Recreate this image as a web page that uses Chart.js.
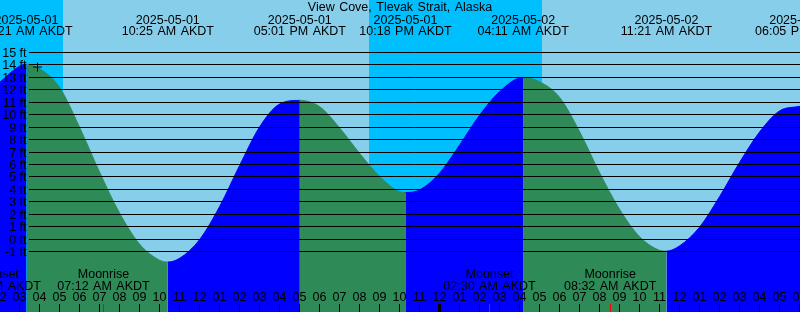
<!DOCTYPE html>
<html>
<head>
<meta charset="utf-8">
<script src="https://cdn.jsdelivr.net/npm/chart.js@4.4.0/dist/chart.umd.min.js"></script>
<style>
  html, body { margin: 0; padding: 0; background: #87ceeb; }
  #chart { display: block; }
</style>
</head>
<body>
<canvas id="chart" width="800" height="312"></canvas>
<script>
const title = 'View Cove, Tlevak Strait, Alaska';

// hours counted from 2025-05-01 00:00 AKDT
const tideHours = [2, 3, 3.35, 4, 5, 6, 7, 8, 9, 10, 10.417, 11, 12, 13, 14, 15, 16, 17.017,
  18, 19, 20, 21, 22, 22.3, 23, 24, 25, 26, 27, 28.183, 29, 30, 31, 32, 33, 34, 35, 35.35,
  36, 37, 38, 39, 40, 41, 42, 42.083];
const tideFeet = [12.6, 13.9, 14.05, 13.7, 12.2, 9.0, 5.4, 2.1, -0.4, -1.7, -1.85, -1.55, -0.05, 2.6, 5.9, 9.0, 10.85, 11.15,
  10.65, 8.95, 6.9, 5.05, 3.8, 3.74, 3.95, 5.3, 7.55, 9.95, 11.85, 13.0, 12.65, 11.4, 8.65, 5.35, 2.4, 0.2, -0.9, -0.97,
  -0.55, 0.95, 3.4, 6.15, 8.6, 10.3, 10.67, 10.7];

const extremeHours = [3.35, 10.417, 17.017, 22.3, 28.183, 35.35, 42.083];
const extremeDates = ['2025-05-01', '2025-05-01', '2025-05-01', '2025-05-01', '2025-05-02', '2025-05-02', '2025-05-02'];
const extremeTimes = ['03:21 AM AKDT', '10:25 AM AKDT', '05:01 PM AKDT', '10:18 PM AKDT', '04:11 AM AKDT', '11:21 AM AKDT', '06:05 PM AKDT'];

const moonHours = [1.767, 7.2, 26.5, 32.533];
const moonEvents = ['Moonset', 'Moonrise', 'Moonset', 'Moonrise'];
const moonTimes = ['01:46 AM AKDT', '07:12 AM AKDT', '02:30 AM AKDT', '08:32 AM AKDT'];

// night = before sunrise / after sunset
const nightStarts = [0, 20.483];
const nightEnds = [5.167, 29.133];

const depthTicks = [-1, 0, 1, 2, 3, 4, 5, 6, 7, 8, 9, 10, 11, 12, 13, 14, 15];
const hourTicks = [2, 3, 4, 5, 6, 7, 8, 9, 10, 11, 12, 13, 14, 15, 16, 17, 18, 19, 20, 21, 22,
  23, 24, 25, 26, 27, 28, 29, 30, 31, 32, 33, 34, 35, 36, 37, 38, 39, 40, 41, 42];

const markHours = [3.9];
const markFeet = [13.83];

const dayColor = '#87CEEB';
const nightColor = '#00BFFF';
const risingColor = '#0000FF';
const fallingColor = '#2E8B57';
const FONT = '12.5px "Liberation Sans", Arial, sans-serif';

const tideColor = (ctx) =>
  ctx.p1.parsed.y > ctx.p0.parsed.y ? risingColor : fallingColor;

const tideDecor = {
  id: 'tideDecor',
  beforeDraw: (chart) => {
    const { ctx, width, height } = chart;
    const x = chart.scales.x;
    ctx.save();
    ctx.fillStyle = dayColor;
    ctx.fillRect(0, 0, width, height);
    ctx.fillStyle = nightColor;
    nightStarts.forEach((start, i) => {
      const x0 = Math.round(x.getPixelForValue(start));
      const x1 = Math.round(x.getPixelForValue(nightEnds[i]));
      ctx.fillRect(x0, 0, x1 - x0, height);
    });
    ctx.restore();
  },
  afterDatasetsDraw: (chart) => {
    const { ctx, width } = chart;
    const { x, y } = chart.scales;
    ctx.save();
    ctx.font = FONT;
    ctx.fillStyle = 'black';
    ctx.strokeStyle = 'black';
    ctx.lineWidth = 1;

    // depth lines and labels
    ctx.textAlign = 'right';
    depthTicks.forEach((ft) => {
      const row = Math.round(y.getPixelForValue(ft) - 0.5);
      ctx.beginPath();
      ctx.moveTo(29, row + 0.5);
      ctx.lineTo(width, row + 0.5);
      ctx.stroke();
      ctx.fillText(ft + ' ft', 26.5, row + 5);
    });

    // title and high/low times
    ctx.textAlign = 'center';
    ctx.wordSpacing = '1px';
    ctx.fillText(title, width / 2, 11);
    extremeHours.forEach((h, i) => {
      const px = x.getPixelForValue(h);
      ctx.fillText(extremeDates[i], px, 24);
      ctx.fillText(extremeTimes[i], px, 35);
    });

    // hour labels and ticks
    hourTicks.forEach((h) => {
      const col = Math.floor(x.getPixelForValue(h));
      const label = String(h % 12 || 12).padStart(2, '0');
      ctx.fillText(label, col + 0.5, 301);
      if (h % 24 === 0) {
        ctx.fillRect(col - 1, 304, 3, 8);
      } else {
        ctx.fillRect(col, 304, 1, 8);
      }
    });

    // moon events
    moonHours.forEach((h, i) => {
      const px = x.getPixelForValue(h);
      ctx.fillStyle = 'black';
      ctx.fillText(moonEvents[i], px, 278);
      ctx.fillText(moonTimes[i], px, 290);
      ctx.fillStyle = 'red';
      ctx.fillRect(Math.floor(px), 304, 1, 8);
    });
    ctx.restore();
  },
};

const chart = new Chart(document.getElementById('chart').getContext('2d'), {
  type: 'line',
  data: {
    datasets: [
      {
        label: 'mark',
        data: markHours.map((h, i) => ({ x: h, y: markFeet[i] })),
        showLine: false,
        pointStyle: 'cross',
        pointRadius: 4.5,
        borderColor: 'black',
        borderWidth: 1,
        fill: false,
      },
      {
        label: 'Tide',
        data: tideHours.map((h, i) => ({ x: h, y: tideFeet[i] })),
        pointRadius: 0,
        borderWidth: 1,
        borderColor: risingColor,
        backgroundColor: risingColor,
        cubicInterpolationMode: 'monotone',
        fill: 'start',
        segment: {
          borderColor: tideColor,
          backgroundColor: tideColor,
        },
      },
    ],
  },
  options: {
    responsive: false,
    animation: false,
    events: [],
    layout: { padding: 0, autoPadding: false },
    plugins: {
      legend: { display: false },
      tooltip: { enabled: false },
    },
    scales: {
      x: { type: 'linear', display: false, min: 2.025, max: 42.025 },
      y: { display: false, min: -5.8643, max: 19.2211 },
    },
  },
  plugins: [tideDecor],
});
</script>
</body>
</html>
